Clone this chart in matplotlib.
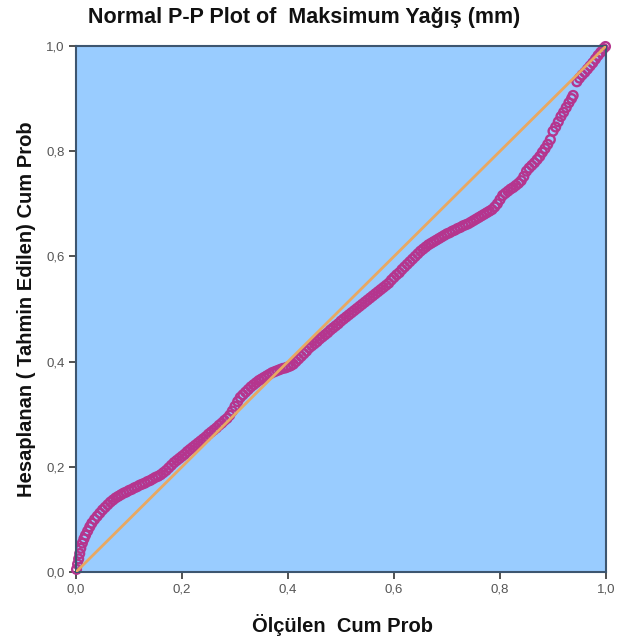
import matplotlib
matplotlib.use("Agg")
import matplotlib.pyplot as plt
from matplotlib.ticker import FuncFormatter

plt.rcParams['font.family'] = ['Liberation Sans', 'DejaVu Sans']

title = "Normal P-P Plot of  Maksimum Yağış (mm)"
xlabel = "Ölçülen  Cum Prob"
ylabel = "Hesaplanan ( Tahmin Edilen) Cum Prob"
tick_values = [0.0, 0.2, 0.4, 0.6, 0.8, 1.0]

observed = [
    0.001, 0.003, 0.005, 0.007, 0.009, 0.012, 0.015, 0.018, 0.022, 0.026,
    0.030, 0.035, 0.040, 0.045, 0.050, 0.055, 0.060, 0.065, 0.070, 0.075,
    0.080, 0.085, 0.090, 0.095, 0.100, 0.105, 0.110, 0.115, 0.120, 0.125,
    0.130, 0.135, 0.140, 0.145, 0.150, 0.155, 0.160, 0.165, 0.170, 0.175,
    0.180, 0.185, 0.190, 0.195, 0.200, 0.205, 0.210, 0.215, 0.220, 0.225,
    0.230, 0.235, 0.240, 0.245, 0.250, 0.255, 0.260, 0.265, 0.270, 0.275,
    0.280, 0.285, 0.290, 0.295, 0.300, 0.305, 0.310, 0.315, 0.320, 0.325,
    0.330, 0.335, 0.340, 0.345, 0.350, 0.355, 0.360, 0.365, 0.370, 0.375,
    0.380, 0.385, 0.390, 0.395, 0.400, 0.405, 0.410, 0.415, 0.420, 0.425,
    0.430, 0.435, 0.440, 0.445, 0.450, 0.455, 0.460, 0.465, 0.470, 0.475,
    0.480, 0.485, 0.490, 0.495, 0.500, 0.505, 0.510, 0.515, 0.520, 0.525,
    0.530, 0.535, 0.540, 0.545, 0.550, 0.555, 0.560, 0.565, 0.570, 0.575,
    0.580, 0.585, 0.590, 0.595, 0.600, 0.605, 0.610, 0.615, 0.620, 0.625,
    0.630, 0.635, 0.640, 0.645, 0.650, 0.655, 0.660, 0.665, 0.670, 0.675,
    0.680, 0.685, 0.690, 0.695, 0.700, 0.705, 0.710, 0.715, 0.720, 0.725,
    0.730, 0.735, 0.740, 0.745, 0.750, 0.755, 0.760, 0.765, 0.770, 0.775,
    0.780, 0.785, 0.790, 0.795, 0.800, 0.805, 0.810, 0.815, 0.820, 0.825,
    0.830, 0.835, 0.840, 0.845, 0.850, 0.855, 0.860, 0.865, 0.870, 0.875,
    0.880, 0.885, 0.890, 0.895, 0.900, 0.905, 0.910, 0.915, 0.920, 0.925,
    0.930, 0.935, 0.938,
    0.945, 0.950, 0.955, 0.960, 0.965, 0.970, 0.975, 0.980, 0.985, 0.990,
    0.995, 0.999,
]

expected = [
    0.005, 0.015, 0.025, 0.035, 0.045, 0.055, 0.063, 0.070, 0.078, 0.086,
    0.093, 0.100, 0.106, 0.112, 0.118, 0.123, 0.128, 0.133, 0.137, 0.141,
    0.144, 0.147, 0.150, 0.152, 0.155, 0.157, 0.160, 0.162, 0.165, 0.167,
    0.169, 0.172, 0.174, 0.177, 0.180, 0.182, 0.185, 0.189, 0.193, 0.198,
    0.203, 0.208, 0.212, 0.216, 0.220, 0.224, 0.229, 0.233, 0.237, 0.241,
    0.245, 0.249, 0.253, 0.257, 0.262, 0.266, 0.270, 0.274, 0.279, 0.283,
    0.288, 0.292, 0.298, 0.306, 0.315, 0.324, 0.332, 0.337, 0.342, 0.347,
    0.352, 0.356, 0.360, 0.364, 0.367, 0.370, 0.373, 0.376, 0.379, 0.381,
    0.383, 0.385, 0.387, 0.388, 0.390, 0.392, 0.395, 0.400, 0.405, 0.410,
    0.415, 0.420, 0.426, 0.430, 0.434, 0.438, 0.443, 0.447, 0.451, 0.455,
    0.460, 0.464, 0.468, 0.472, 0.477, 0.481, 0.485, 0.489, 0.493, 0.497,
    0.501, 0.505, 0.509, 0.513, 0.517, 0.521, 0.525, 0.529, 0.533, 0.537,
    0.541, 0.545, 0.549, 0.555, 0.560, 0.565, 0.569, 0.575, 0.580, 0.585,
    0.590, 0.595, 0.600, 0.605, 0.610, 0.614, 0.618, 0.622, 0.625, 0.628,
    0.631, 0.634, 0.637, 0.640, 0.643, 0.645, 0.648, 0.650, 0.653, 0.655,
    0.658, 0.660, 0.662, 0.665, 0.668, 0.671, 0.674, 0.677, 0.680, 0.683,
    0.686, 0.689, 0.694, 0.700, 0.708, 0.716, 0.720, 0.724, 0.728, 0.731,
    0.735, 0.739, 0.744, 0.752, 0.762, 0.768, 0.773, 0.778, 0.784, 0.790,
    0.798, 0.805, 0.813, 0.822, 0.838, 0.846, 0.856, 0.866, 0.874, 0.883,
    0.892, 0.900, 0.906,
    0.932, 0.939, 0.945, 0.950, 0.956, 0.962, 0.968, 0.975, 0.982, 0.988,
    0.995, 0.999,
]

fig = plt.figure(figsize=(6.19, 6.39), dpi=100)
ax = fig.add_axes([76 / 619, 67 / 639, 530 / 619, 526 / 639])
ax.set_facecolor('#99CCFF')

ax.scatter(observed, expected, s=40, facecolors='none', edgecolors='#B5358E',
           linewidths=1.7, zorder=2, clip_on=False)
ax.plot([0, 1], [0, 1], color='#E8A862', linewidth=2.0, zorder=3)

ax.set_xlim(0, 1)
ax.set_ylim(0, 1)
ax.set_xticks(tick_values)
ax.set_yticks(tick_values)
fmt = FuncFormatter(lambda v, p: f"{v:.1f}".replace('.', ','))
ax.xaxis.set_major_formatter(fmt)
ax.yaxis.set_major_formatter(fmt)
ax.tick_params(axis='both', direction='out', length=5, width=1.2,
               color='#333333', labelcolor='#555555', labelsize=9.5, pad=3)

for sp in ax.spines.values():
    sp.set_color('#3D5670')
    sp.set_linewidth(1.5)

fig.text(304 / 619, 1 - 18 / 639, title, fontsize=15.5, fontweight='bold',
         color='#111111', ha='center', va='center')
fig.text(343 / 619, 1 - 625 / 639, xlabel, fontsize=14.5, fontweight='bold',
         color='#111111', ha='center', va='center')
fig.text(27 / 619, 1 - 309 / 639, ylabel, fontsize=14.5, fontweight='bold',
         color='#111111', ha='center', va='center', rotation=90)

fig.savefig('out.png', dpi=100, facecolor='white')
